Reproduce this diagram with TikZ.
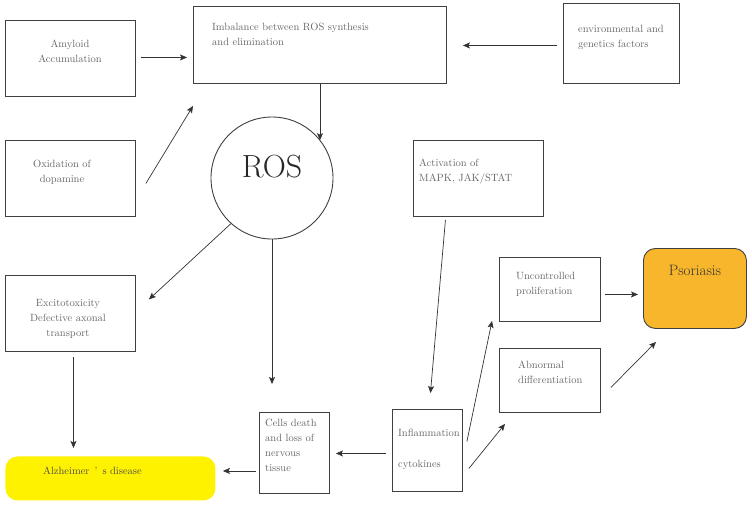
\documentclass[tikz,border=0pt]{standalone}
\usetikzlibrary{arrows.meta, calc}
\definecolor{alzyellow}{RGB}{255,242,0}
\definecolor{psoorange}{RGB}{247,182,44}

\begin{document}
\begin{tikzpicture}[x=1pt, y=-1pt]
    \tikzstyle{box} = [draw=black!75, line width=0.9pt, anchor=north west, inner sep=0pt]
    \tikzstyle{txt} = [inner sep=0pt, text=black!60, font=\fontsize{10.5}{15}\selectfont]
    \tikzstyle{arr} = [-{Stealth[length=7pt,width=6pt,inset=1.5pt]}, line width=0.7pt, draw=black!80]

    \useasboundingbox (0,0) rectangle (752,507);

    % Boxes .........................
    \node[box, minimum width=130pt, minimum height=76pt] (amy) at (5,20) {};
    \node[box, minimum width=253pt, minimum height=77pt] (imb) at (193,6) {};
    \node[box, minimum width=116pt, minimum height=80pt] (env) at (563,3) {};
    \node[box, minimum width=130pt, minimum height=76pt] (oxi) at (5,140) {};
    \node[box, minimum width=130pt, minimum height=76pt] (act) at (413,140) {};
    \node[box, minimum width=130pt, minimum height=76pt] (exc) at (5,275) {};
    \node[box, minimum width=70pt, minimum height=81pt] (cell) at (259,412) {};
    \node[box, minimum width=70pt, minimum height=82pt] (infl) at (392,409) {};
    \node[box, minimum width=101pt, minimum height=64pt] (unc) at (499,257) {};
    \node[box, minimum width=101pt, minimum height=64pt] (abn) at (499,348) {};
    \node[box, draw=none, fill=alzyellow, rounded corners=12pt, minimum width=210pt, minimum height=44pt] (alz) at (5,456) {};
    \node[box, fill=psoorange, rounded corners=12pt, minimum width=103pt, minimum height=80pt,
          text=black!80, text height=10.5pt, text depth=36.5pt, font=\fontsize{15}{15}\selectfont] (pso) at (643,248) {Psoriasis};
    \node[circle, draw=black!75, line width=0.9pt, minimum size=122pt, inner sep=0pt, text=black!85,
          text height=22pt, text depth=24pt, font=\fontsize{32}{32}\selectfont] (ros) at (272,178) {ROS};

    % Texts .........................
    \node[txt, anchor=north, align=center] (amy-t) at (70,40) {Amyloid\\Accumulation};
    \node[txt, anchor=north west, align=left] (imb-t) at (212,23) {Imbalance between ROS synthesis\\and elimination};
    \node[txt, anchor=north west, align=left] (env-t) at (578,25) {environmental and\\genetics factors};
    \node[txt, anchor=north, align=center] (oxi-t) at (62,160) {Oxidation of\\dopamine};
    \node[txt, anchor=north west, align=left] (act-t) at (419,159) {Activation of\\MAPK, JAK/STAT};
    \node[txt, anchor=north, align=center] (exc-t) at (68,299) {Excitotoxicity\\Defective axonal\\transport};
    \node[txt, anchor=north west, text=black!70] (alz-t) at (43,467) {Alzheimer\hspace{5pt}’\hspace{5pt}s disease};
    \node[txt, anchor=north west, align=left] (cell-t) at (265,419) {Cells death\\and loss of\\nervous\\tissue};
    \node[txt, anchor=north west, align=left] (infl-t) at (398,429) {Inflammation\\[16pt]cytokines};
    \node[txt, anchor=north west, align=left] (unc-t) at (516,272) {Uncontrolled\\proliferation};
    \node[txt, anchor=north west, align=left] (abn-t) at (518,361) {Abnormal\\differentiation};

    % Arrows .........................
    \draw[arr] ([shift={(5,-1)}]amy.east) -- ([shift={(-6,-1)}]amy.east -| imb.west);
    \draw[arr] ([shift={(-6,2)}]env.west) -- ([shift={(16,2)}]env.west -| imb.east);
    \draw[arr] ([shift={(10,5)}]oxi.east) -- ([shift={(0,22)}]imb.south west);
    \draw[arr] (imb.south) -- (imb.south |- ros.38);
    \draw[arr] (ros.228) -- ([shift={(13,-14)}]exc.east);
    \draw[arr, shorten >=28pt] (ros.south) -- (ros.south |- cell.north);
    \draw[arr, shorten <=5pt, shorten >=8pt] ([shift={(3,0)}]exc.south) -- ([shift={(3,0)}]exc.south |- alz.north);
    \draw[arr, shorten <=3pt, shorten >=7pt] ([shift={(0,18)}]cell.west) -- ([shift={(0,18)}]cell.west -| alz.east);
    \draw[arr, shorten <=6pt, shorten >=6pt] ([shift={(0,3)}]infl.west) -- ([shift={(0,3)}]infl.west -| cell.east);
    \draw[arr] ([shift={(-33,3)}]act.south) -- ([shift={(3,-16)}]infl.north);
    \draw[arr] ([shift={(4,-9)}]infl.east) -- ([shift={(-7,-1)}]unc.south west);
    \draw[arr] ([shift={(6,18)}]infl.east) -- ([shift={(6,11)}]abn.south west);
    \draw[arr, shorten <=4pt, shorten >=5pt] ([shift={(0,5)}]unc.east) -- ([shift={(0,5)}]unc.east -| pso.west);
    \draw[arr] ([shift={(10,7)}]abn.east) -- ([shift={(13,13)}]pso.south west);

\end{tikzpicture}
\end{document}
